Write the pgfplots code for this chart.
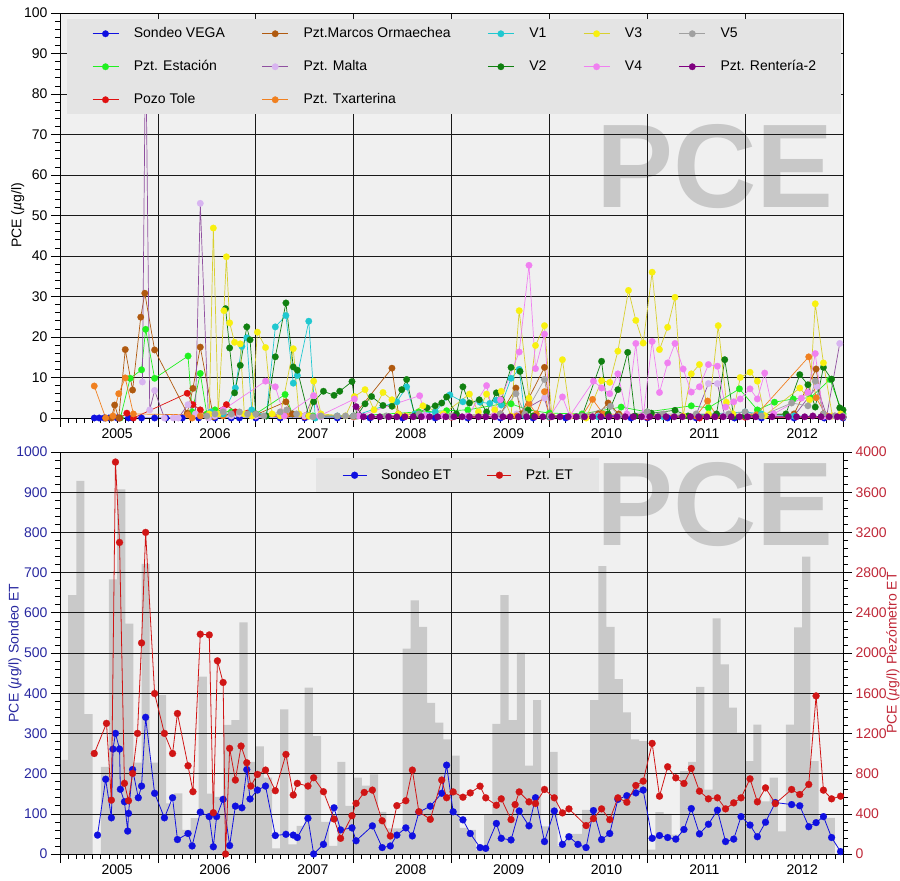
\documentclass[border=0pt]{standalone}
\usepackage{pgfplots}
\pgfplotsset{compat=1.18}
\usepackage{graphicx}
\usepackage{fontspec}
\setmainfont{Liberation Sans}
\definecolor{bgc}{HTML}{F0F0F0}
\definecolor{legc}{HTML}{E4E4E4}
\definecolor{wm}{HTML}{C8C8C8}
\definecolor{barc}{HTML}{C9C9C9}
\definecolor{cVEGA}{HTML}{1010E0}
\definecolor{cEst}{HTML}{20F020}
\definecolor{cTole}{HTML}{E01010}
\definecolor{cMarc}{HTML}{B05A10}
\definecolor{cMaltaL}{HTML}{9050A0}
\definecolor{cMaltaM}{HTML}{D8B4F0}
\definecolor{cTxar}{HTML}{F08020}
\definecolor{cVone}{HTML}{20C8D0}
\definecolor{cVtwo}{HTML}{108010}
\definecolor{cVthreeL}{HTML}{D8D030}
\definecolor{cVthreeM}{HTML}{F8F010}
\definecolor{cVfour}{HTML}{F080F0}
\definecolor{cVfive}{HTML}{A0A0A0}
\definecolor{cRent}{HTML}{800080}
\definecolor{cSET}{HTML}{1010E0}
\definecolor{cPET}{HTML}{D01515}
\definecolor{blueax}{HTML}{2828A0}
\definecolor{redax}{HTML}{C02838}
\newcommand{\fs}{\fontsize{14bp}{16bp}\selectfont}
\pgfplotsset{
  panel/.style={
    scale only axis, width=783bp,
    xmin=6, xmax=102,
    xtick={6,18,30,42,54,66,78,90,102}, xticklabels={},
    minor x tick num=11,
    extra x ticks={13,25,37,49,61,73,85,97},
    extra x tick labels={2005,2006,2007,2008,2009,2010,2011,2012},
    extra x tick style={major tick length=0pt, grid=none, xticklabel style={yshift=-7bp}},
    tick align=outside, xtick pos=left, ytick pos=left,
    major tick length=9bp, minor tick length=5bp,
    grid=major, major grid style={black!90, line width=0.6pt},
    axis line style={black, line width=0.9pt},
    tick style={black, line width=0.6pt},
    tick label style={font=\fs},
    label style={font=\fs},
    /pgf/number format/assume math mode=true,
    /pgf/number format/1000 sep={},
    scaled y ticks=false,
  },
  s/.style={color=#1, mark=*, mark size=3.3pt, line width=0.7pt, mark options={fill=#1, draw=#1, line width=0.2pt}},
  s2/.style 2 args={color=#1, mark=*, mark size=3.3pt, line width=0.7pt, mark options={fill=#2, draw=#2, line width=0.2pt}},
  b/.style={color=#1, mark=*, mark size=3.5pt, line width=0.8pt, mark options={fill=#1, draw=#1, line width=0.2pt}},
}
\begin{document}
\begin{tikzpicture}
\useasboundingbox (0,0) rectangle (900bp,881bp);
% backgrounds and watermarks
\fill[bgc] (60bp,463bp) rectangle (843bp,868bp);
\fill[bgc] (60bp,27bp) rectangle (843bp,429bp);
\node[text=wm, inner sep=0pt, font=\bfseries\fontsize{119bp}{119bp}\selectfont] at (715bp,714.5bp) {\scalebox{0.97}[1]{PCE}};
\node[text=wm, inner sep=0pt, font=\bfseries\fontsize{119bp}{119bp}\selectfont] at (715bp,376bp) {\scalebox{0.97}[1]{PCE}};

% ================= TOP PANEL =================
\begin{axis}[panel, at={(60bp,463bp)}, anchor=south west, height=405bp,
  ymin=0, ymax=100, ytick={0,10,...,100}, minor y tick num=4,
  ylabel={PCE (\textit{µ}g/l)},
  ylabel style={at={(axis description cs:-0.054,0.5)}, anchor=center},
  legend columns=5, legend cell align=left,
  legend style={at={(0.0089,0.985)}, anchor=north west, fill=legc, draw=none,
    inner xsep=25bp, inner ysep=8bp, column sep=0pt, row sep=20bp, font=\fs,
    nodes={inner xsep=0pt, inner ysep=0pt, text height=10.5bp, text depth=2.5bp}},
  legend image code/.code={\draw[mark repeat=2,mark phase=2] plot coordinates {(0bp,0bp)(13bp,0bp)(26bp,0bp)};},
]
% Sondeo VEGA
\addplot[s=cVEGA, forget plot] coordinates {(10.2,0)(10.8,0)(11.4,0)(12,0)(13,0)(14.4,0)(14.9,0)(16,0)(17.6,0)(19,0)(21,0)(23,0)(25,0)(27,0)(28,0)(30,0)(33,0)(36,0)(40,0)(44,0)(48,0)(52,0)(56,0)(60,0)(64,0)(68,0)(72.4,0.4)(74.4,0.6)(76,0)(78,0)(80.5,0)(84,0)(88.7,0)(92,0)(96,0)(99.7,0)(102,0)};
% Pzt. Estacion
\addplot[s=cEst, forget plot] coordinates {(13.4,0)(14.6,9.8)(16.0,11.9)(16.5,21.9)(17.6,9.8)(21.7,15.3)(22.2,1.5)(23.2,11)(24,1)(25,2)(27,1.5)(30,1)(33.6,5.8)(34.5,1)(37,0.5)(42,0.5)(50,1.5)(53.4,1.8)(56,2)(60.2,3.5)(61.3,3.5)(63.4,2)(66,1.2)(70,1)(74.8,2.7)(78,1.5)(83.4,3)(85.5,2.5)(89.3,7.2)(91.5,2)(93.6,3.9)(95.9,4.7)(98,5)(100.4,9.5)(102,1)};
% Pozo Tole
\addplot[s=cTole, forget plot] coordinates {(13.3,0)(14.2,1.2)(15,0)(21.6,6.1)(22.3,3.3)(23.2,2)(24,0.5)(26.4,3.3)(27.5,1.5)(29,1.2)(30,0.5)(36,0.3)(42,0.3)(54,0.2)(66,0.2)(78,0.2)(84.4,0)(90,0.2)(102,0.2)};
% Pzt. Marcos Ormaechea
\addplot[s=cMarc, forget plot] coordinates {(11.6,0)(12.3,0)(12.7,3.2)(13.2,0)(14.0,16.9)(14.9,6.9)(15.9,24.9)(16.4,30.8)(17.6,16.8)(21.6,1.2)(22.3,7.3)(23.2,17.5)(24.8,0.3)(26,0.8)(28,1)(30,0.8)(33.7,4)(34.5,1)(36,0.5)(42,0.5)(46.7,12.3)(47.5,1)(54,0.5)(60,1)(61.9,7.4)(62.5,1)(65.4,12.5)(66.2,0.5)(72,1)(73.2,3.7)(74.5,1)(84,0.5)(96,1)(98.7,12.1)(99.6,1)(102,0.3)};
% Pzt. Malta
\addplot[s2={cMaltaL}{cMaltaM}, forget plot] coordinates {(16.1,8.9)(16.5,95)(17.0,2)(17.6,6.8)(18.8,0)(19.9,0)(20.5,0)(21.7,3.3)(22.6,1)(23.2,53)(24.2,0)(25,0.5)(26,1)(27,0.5)(28,1)(30,0.5)(33,1)(36,0.5)(37.1,5.5)(38,0.3)(42,0.2)(54,0.3)(60,0.5)(62,1)(65.4,4.9)(66,0.5)(72,0.5)(78,0.5)(84,0.8)(85.5,8.5)(86.6,8.5)(87.5,0.5)(90,0.5)(96,0.5)(98.8,7.8)(100,0.5)(101.6,18.4)};
% Pzt. Txarterina
\addplot[s=cTxar, forget plot] coordinates {(10.2,7.9)(11.6,0)(12.5,0.5)(13.2,6)(14.0,9.9)(15,1)(21.7,0.8)(22.2,0)(23.2,0.5)(26,0.5)(33.7,0.7)(42,0.3)(62,0.5)(63.5,3.6)(64.4,1)(65.4,6.5)(66,0.5)(70,0.5)(71.3,4.6)(72.6,1)(84,0.5)(85.4,4.2)(86.5,0.5)(91.4,0.8)(97.8,15.1)(98.7,5)(100,0.5)(102,0.3)};
% V1
\addplot[s=cVone, forget plot] coordinates {(24.5,1.5)(26,1)(27.5,7.4)(28.3,17.7)(28.9,19.8)(29.5,2)(31.3,0.5)(32.4,22.5)(33.7,25.3)(34.6,8.6)(35.1,10.5)(36.5,23.9)(37.3,0)(40,0.5)(42,0.5)(47.3,4)(48.5,7.7)(49.5,1)(52,1.5)(53.8,5.7)(55.4,4)(57.5,3.9)(58.7,3.6)(59.5,4.4)(60.1,3.2)(61.3,9.8)(62.3,12)(63,0.5)(66,0.3)(72,0.3)(80,0.3)(90,1.5)(92,1)(96,0.5)(102,0.3)};
% V2
\addplot[s=cVtwo, forget plot] coordinates {(26.3,27)(26.8,17.3)(27.4,6.2)(28.1,13)(28.9,22.5)(29.3,19.3)(30,1)(31.3,0.5)(32.4,15.1)(33.7,28.4)(34.6,12.6)(35.1,11.8)(36.5,0.5)(37.1,4)(38.3,6.6)(39.6,5.6)(40.3,6.6)(41.8,9)(42.4,0.5)(43.4,3.5)(44.2,5.3)(45.6,3.1)(46.7,2.9)(47.9,7)(48.5,9.5)(49.5,0.5)(51,2.5)(52,3)(52.8,3.7)(53.4,5.2)(54.6,1)(55.4,7.7)(56.2,3.7)(57.4,4.5)(58.3,1.5)(59.5,6.2)(60.1,4.5)(61.3,12.5)(62.4,11.5)(63.4,1.9)(64,0.5)(66,0.5)(70,0.5)(72.4,14)(73.2,1)(74.4,7)(75.6,16.2)(76.5,0.5)(78.5,1.2)(81.4,1.9)(83,0.5)(86.5,1)(87.5,14.4)(88.6,0.4)(90,0.5)(95,1)(96.7,10.7)(97.7,8.2)(98.6,2.7)(99.6,12.5)(100.6,9.6)(101.6,2.5)(102,2)};
% V3
\addplot[s2={cVthreeL}{cVthreeM}, forget plot] coordinates {(24.3,1)(24.8,46.9)(25.4,1)(26.1,26.5)(26.4,39.8)(26.8,23.5)(27.4,18.7)(28.1,18.3)(28.6,1)(29.5,0.5)(30.2,21.2)(31.2,17.4)(32,1)(33,0.5)(34.6,17.1)(35.3,1)(36.5,0.5)(37.1,9.1)(38,1)(41,0.5)(42.1,5.3)(43.4,7)(44.5,2)(45.6,6.3)(46.7,4.5)(47.5,1)(48.4,0.5)(50.5,3)(53,1)(56.2,5.9)(57.3,1.5)(58.3,5.9)(59.3,2)(60.1,6.6)(61.3,0.5)(62.3,26.5)(63.5,4.9)(64.3,17.9)(65.4,22.8)(66.3,0.5)(67.6,14.4)(68.6,0.5)(70.5,0)(72.4,9.2)(73.4,8.8)(74.4,16.5)(75.7,31.5)(76.6,24.1)(77.5,18.5)(78.6,36)(79.5,16.9)(80.5,22.4)(81.4,29.8)(82.4,0.5)(83.4,10.9)(84.4,13.2)(85.5,1)(86.7,22.8)(87.7,3.9)(88.5,1)(89.4,10)(90.6,11.3)(91.5,9.1)(92.4,0.6)(96.7,7.4)(97.9,4.5)(98.6,28.2)(99.6,13.6)(100.7,0.5)(101.7,1)};
% V4
\addplot[s=cVfour, forget plot] coordinates {(26,2)(31.2,9.1)(32.4,7.7)(33.5,0.5)(37.1,5.5)(37.8,0.5)(42.1,4.7)(42.6,0.5)(50.1,5.5)(50.8,0.5)(53,0.5)(56,0.5)(58.3,8)(59.2,0.5)(60,4.5)(62.3,16.3)(63.5,37.7)(64.3,12.2)(65.4,20.7)(66.1,0.5)(67.6,5.2)(68.5,0.5)(71.4,9.1)(72.4,7.4)(73.4,6)(74.4,10.9)(75.5,1)(76.6,18.4)(77.5,0.4)(78.6,18.9)(79.5,6.3)(80.5,13.6)(81.4,18.4)(82.4,12.1)(83.4,6.4)(84.4,7.7)(85.5,13.2)(86.6,12.8)(87.6,2.7)(88.6,4)(89.4,4.7)(90.6,7.2)(91.5,4.7)(92.4,11.1)(93.5,1)(96.9,4.9)(97.7,6.3)(98.6,15.9)(99.6,0.4)(101,0.5)};
% V5
\addplot[s=cVfive, forget plot] coordinates {(24,0.5)(25,1)(26,1.5)(27,1)(28,1.5)(29,1)(30,1)(31,0.5)(33,1.5)(33.8,2)(35,1)(37,0.3)(38,0.5)(40,0.5)(41,0.5)(42,0.5)(46,0.5)(50,1)(54,0.5)(60,1)(61.9,6)(63,1)(65.4,9.5)(66.2,0.5)(70,0.5)(73.5,2.9)(74.5,0.5)(78,1.5)(80,1)(84,1)(88,1)(90,1.5)(92,0.5)(95.7,3.7)(97.7,3)(98.6,9.1)(99.6,1)(101,0.5)(102,0.5)};
% Pzt. Renteria-2
\addplot[s=cRent, forget plot] coordinates {(42.3,2.8)(43.2,0.3)(44.2,0.3)(45.2,0.3)(46.3,0.3)(47.3,0.3)(48.3,0.3)(49.3,0.3)(50.3,0.3)(51.3,0.3)(52.3,0.3)(53.3,0.3)(54.3,0.3)(55.3,0.3)(56.2,0.3)(57.3,0.3)(58.2,0.3)(59.3,0.3)(60.3,0.3)(61.2,0.3)(62.2,0.3)(63.2,0.3)(64.2,0.3)(65.2,0.3)(66.3,0.3)(67.3,0.3)(68.3,0.3)(69.3,0.3)(70.3,0.3)(71.3,0.3)(72.3,0.3)(73.3,0.3)(74.3,0.3)(75.3,0.3)(76.3,0.3)(77.3,0.3)(78.3,0.3)(79.3,0.3)(80.3,0.3)(81.3,0.3)(82.3,0.3)(83.3,0.3)(84.3,0.3)(85.3,0.3)(86.3,0.3)(87.3,0.3)(88.3,0.3)(89.3,0.3)(90.3,0.3)(91.3,0.3)(93.3,0.3)(95.3,0.3)(96.3,0.3)(97.3,0.3)(98.3,0.5)(99.3,0.3)(100.3,0.3)(101.3,0.3)(101.9,0.3)};
% legend (row-wise)
\addlegendimage{s=cVEGA}\addlegendentry{\makebox[143bp][l]{\hspace*{15bp}Sondeo VEGA}}
\addlegendimage{s=cMarc}\addlegendentry{\makebox[199bp][l]{\hspace*{15bp}Pzt.Marcos Ormaechea}}
\addlegendimage{s=cVone}\addlegendentry{\makebox[69bp][l]{\hspace*{15bp}V1}}
\addlegendimage{s2={cVthreeL}{cVthreeM}}\addlegendentry{\makebox[69bp][l]{\hspace*{15bp}V3}}
\addlegendimage{s=cVfive}\addlegendentry{\hspace*{15bp}V5}
\addlegendimage{s=cEst}\addlegendentry{\makebox[143bp][l]{\hspace*{15bp}Pzt. Estación}}
\addlegendimage{s2={cMaltaL}{cMaltaM}}\addlegendentry{\makebox[199bp][l]{\hspace*{15bp}Pzt. Malta}}
\addlegendimage{s=cVtwo}\addlegendentry{\makebox[69bp][l]{\hspace*{15bp}V2}}
\addlegendimage{s=cVfour}\addlegendentry{\makebox[69bp][l]{\hspace*{15bp}V4}}
\addlegendimage{s=cRent}\addlegendentry{\hspace*{15bp}Pzt. Rentería-2}
\addlegendimage{s=cTole}\addlegendentry{\makebox[143bp][l]{\hspace*{15bp}Pozo Tole}}
\addlegendimage{s=cTxar}\addlegendentry{\makebox[199bp][l]{\hspace*{15bp}Pzt. Txarterina}}
\addlegendimage{empty legend}\addlegendentry{}
\addlegendimage{empty legend}\addlegendentry{}
\addlegendimage{empty legend}\addlegendentry{}
\end{axis}

% ================= BOTTOM PANEL =================
% bars
\begin{axis}[scale only axis, width=783bp, height=402bp, at={(60bp,27bp)}, anchor=south west,
  xmin=6, xmax=102, ymin=0, ymax=1000, hide axis]
\addplot[const plot, fill=barc, draw=none] coordinates {(6,234)(7,644)(8,928)(9,348)(10,0)(11,217)(12,683)(13,907)(14,573)(15,227)(16,722)(17,227)(18,395)(19,126)(20,151)(21,60)(22,89)(23,441)(24,150)(25,142)(26,321)(27,333)(28,576)(29,229)(30,268)(31,190)(32,14)(33,360)(34,24)(35,70)(36,414)(37,293)(38,80)(39,20)(40,229)(41,120)(42,190)(43,170)(44,198)(45,105)(46,64)(47,64)(48,511)(49,631)(50,565)(51,376)(52,327)(53,285)(54,245)(55,65)(56,60)(57,10)(58,98)(59,324)(60,644)(61,333)(62,501)(63,220)(64,383)(65,69)(66,254)(67,20)(68,50)(69,50)(70,110)(71,383)(72,716)(73,565)(74,435)(75,352)(76,285)(77,281)(78,11)(79,104)(80,100)(81,48)(82,206)(83,229)(84,416)(85,160)(86,586)(87,472)(88,364)(89,302)(90,231)(91,322)(92,131)(93,190)(94,56)(95,322)(96,564)(97,740)(98,231)(99,90)(100,90)(101,0)(102,0)} \closedcycle;
\end{axis}
% left axis, grid, Sondeo ET
\begin{axis}[panel, at={(60bp,27bp)}, anchor=south west, height=402bp,
  ymin=0, ymax=1000, ytick={0,100,...,1000}, minor y tick num=4,
  yticklabel style={text=blueax},
  ylabel={PCE (\textit{µ}g/l) Sondeo ET},
  ylabel style={text=blueax, at={(axis description cs:-0.0575,0.5)}, anchor=center},
]
\addplot[b=cSET] coordinates {(10.6,47)(11.6,186)(12.3,90)(12.5,261)(12.8,300)(13.3,261)(13.4,161)(13.9,130)(14.3,57)(14.4,101)(14.9,210)(15.6,140)(16.0,169)(16.5,340)(17.6,151)(18.8,90)(19.8,140)(20.4,36)(21.7,51)(22.2,20)(23.2,104)(24.3,93)(24.8,18)(25.2,93)(26.0,136)(26.8,21)(27.5,119)(28.3,115)(28.9,210)(29.3,137)(30.2,159)(31.2,169)(32.4,46)(33.7,49)(34.6,47)(35.1,41)(36.4,89)(37.1,0)(38.3,24)(39.6,115)(40.4,60)(41.8,65)(42.3,33)(44.3,70)(45.5,16)(46.5,20)(47.3,47)(48.4,65)(49.2,45)(50.0,104)(51.4,119)(52.8,151)(53.4,221)(54.2,105)(55.4,85)(56.3,51)(57.5,16)(58.2,14)(59.5,76)(60.1,39)(61.3,35)(62.3,107)(63.5,70)(64.3,140)(65.4,31)(66.6,107)(67.6,24)(68.4,43)(69.5,24)(70.5,16)(71.4,108)(72.4,36)(73.4,51)(74.4,136)(75.5,145)(76.6,152)(77.5,159)(78.6,39)(79.5,46)(80.5,41)(81.5,37)(82.5,61)(83.4,113)(84.4,50)(85.5,74)(86.6,109)(87.6,31)(88.6,37)(89.5,93)(90.6,72)(91.5,43)(92.5,79)(93.7,128)(95.7,123)(96.7,120)(97.8,68)(98.7,78)(99.6,93)(100.6,41)(101.7,6)};
\end{axis}
% right axis, Pzt. ET
\begin{axis}[scale only axis, width=783bp, height=402bp, at={(60bp,27bp)}, anchor=south west,
  xmin=6, xmax=102, ymin=0, ymax=4000,
  axis x line=none, axis y line*=right,
  ytick={0,400,...,4000}, minor y tick num=4,
  tick align=outside, major tick length=9bp, minor tick length=5bp,
  tick style={black, line width=0.6pt}, axis line style={black, line width=0.9pt},
  yticklabel style={text=redax, font=\fs},
  /pgf/number format/assume math mode=true, /pgf/number format/1000 sep={}, scaled y ticks=false,
  ylabel={PCE (\textit{µ}g/l) Piezómetro ET},
  ylabel style={text=redax, font=\fs, at={(axis description cs:1.0638,0.5)}, anchor=center},
  legend columns=2, legend cell align=left,
  legend style={at={(0.327,0.985)}, anchor=north west, fill=legc, draw=none,
    inner xsep=26bp, inner ysep=10.5bp, column sep=0pt, font=\fs,
    nodes={inner xsep=0pt, inner ysep=0pt, text height=10.5bp, text depth=2.5bp}},
  legend image code/.code={\draw[mark repeat=2,mark phase=2] plot coordinates {(0bp,0bp)(12bp,0bp)(24bp,0bp)};},
]
\addlegendimage{b=cSET}\addlegendentry{\makebox[120bp][l]{\hspace*{14bp}Sondeo ET}}
\addplot[b=cPET] coordinates {(10.2,1000)(11.7,1300)(12.3,536)(12.8,3900)(13.3,3100)(13.9,703)(14.4,530)(14.9,802)(15.5,1200)(16.0,2100)(16.5,3200)(17.6,1597)(18.8,1200)(19.8,1000)(20.4,1398)(21.7,878)(22.3,620)(23.2,2187)(24.3,2180)(24.8,411)(25.3,1922)(26.0,1707)(26.3,0)(26.8,1051)(27.5,736)(28.2,1074)(28.9,908)(29.4,676)(30.2,792)(31.2,835)(32.4,630)(33.7,991)(34.6,587)(35.1,703)(36.4,676)(37.1,759)(38.3,620)(39.6,348)(40.4,156)(41.8,381)(42.3,504)(43.3,613)(44.3,636)(45.5,331)(46.5,179)(47.3,481)(48.4,530)(49.2,835)(50.0,421)(51.4,345)(52.8,736)(53.4,560)(54.2,618)(55.4,565)(56.3,608)(57.5,675)(58.2,559)(59.5,485)(60.1,549)(61.3,342)(61.8,492)(62.3,618)(63.5,519)(64.3,502)(65.4,642)(66.6,559)(67.6,409)(68.4,449)(70.5,283)(71.4,352)(72.4,449)(73.4,342)(74.4,559)(75.5,515)(76.6,682)(77.5,725)(78.6,1101)(79.5,575)(80.5,868)(81.5,758)(82.5,702)(83.4,851)(84.4,625)(85.5,549)(86.6,559)(87.6,449)(88.6,509)(89.5,559)(90.6,748)(91.5,519)(92.5,658)(93.7,502)(95.7,642)(96.7,592)(97.8,692)(98.7,1573)(99.6,635)(100.6,549)(101.7,575)};
\addlegendentry{\hspace*{14bp}Pzt. ET}
\end{axis}
\end{tikzpicture}
\end{document}
